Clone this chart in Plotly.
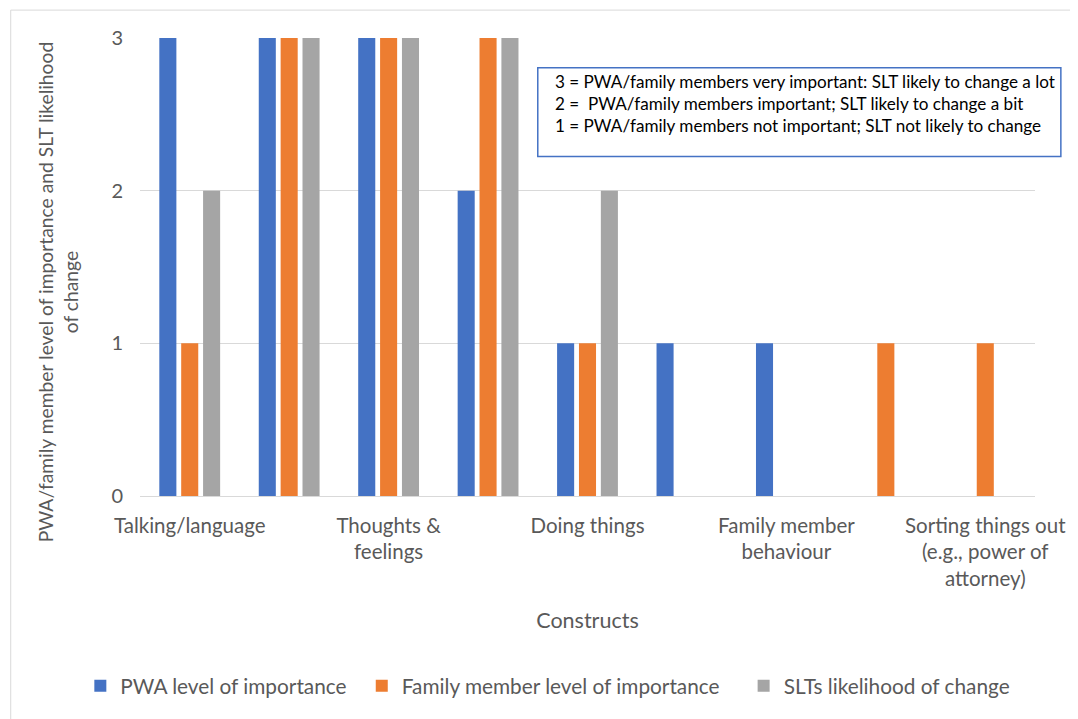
import plotly.graph_objects as go

# ---- data ----
positions = [0, 1, 2, 3, 4, 5, 6, 7, 8]
tick_positions = [0, 2, 4, 6, 8]
tick_labels = [
    "Talking/language",
    "Thoughts &<br>feelings",
    "Doing things",
    "Family member<br>behaviour",
    "Sorting things out<br>(e.g., power of<br>attorney)",
]
pwa = [3, 3, 3, 2, 1, 1, 1, 0, 0]
family = [1, 3, 3, 3, 1, 0, 0, 1, 1]
slt = [2, 3, 3, 3, 2, 0, 0, 0, 0]

series_names = ["PWA level of importance", "Family member level of importance", "SLTs likelihood of change"]
series_colors = ["#4472C4", "#ED7D31", "#A5A5A5"]

FONT = "Lato"
TXT = "#595959"

# plot area (absolute px in the window): x 140..1040, y 38..498 ; page body has 8px margin
PL, PR, PT, PB = 140, 1040, 38, 498
PW, PH = PR - PL, PB - PT


def px(x):
    return (x - PL) / PW


def py(y):
    return (PB - y) / PH


legend_ids = ["legend", "legend2", "legend3"]
legend_x = [80, 363, 747]

fig = go.Figure()
for name, vals, col, lid in zip(series_names, [pwa, family, slt], series_colors, legend_ids):
    fig.add_trace(go.Bar(x=positions, y=vals, name=name, legend=lid,
                         marker=dict(color=col, line=dict(width=0))))

legend_common = dict(orientation="h", xanchor="left", y=py(689), yanchor="middle",
                     font=dict(size=20.8, color=TXT), itemwidth=30, bgcolor="rgba(0,0,0,0)")

fig.update_layout(
    width=1070, height=711,
    paper_bgcolor="white", plot_bgcolor="white",
    barmode="group", bargap=0.34, bargroupgap=0.22,
    margin=dict(l=PL - 8, r=1078 - PR, t=PT - 8, b=719 - PB),
    font=dict(family=FONT, size=20, color=TXT),
    showlegend=True,
    legend=dict(x=px(legend_x[0]), **legend_common),
    legend2=dict(x=px(legend_x[1]), **legend_common),
    legend3=dict(x=px(legend_x[2]), **legend_common),
)
fig.update_xaxes(
    range=[-0.5, 8.5], tickmode="array", tickvals=tick_positions, ticktext=tick_labels,
    showgrid=False, zeroline=False, showline=True, linecolor="#D9D9D9", linewidth=1,
    ticks="", tickfont=dict(size=20.5, color=TXT), ticklabelstandoff=11,
    title=dict(text="Constructs", font=dict(size=21.5, color=TXT), standoff=24),
)
fig.update_yaxes(
    range=[0, 3], tickvals=[0, 1, 2, 3], showgrid=True, gridcolor="#D9D9D9", gridwidth=1,
    zeroline=False, showline=False, ticks="", ticklabelstandoff=16,
    tickfont=dict(size=20, color=TXT),
)

# y axis title
fig.add_annotation(
    text="PWA/family member level of importance and SLT likelihood<br>of change",
    xref="paper", yref="paper", x=px(57), y=py(293), textangle=-90,
    showarrow=False, font=dict(size=19.3, color=TXT), xanchor="center", yanchor="middle",
)

# key text box
fig.add_annotation(
    text="3 = PWA/family members very important: SLT likely to change a lot<br>"
         "2 = \u00a0PWA/family members important; SLT likely to change a bit<br>"
         "1 = PWA/family members not important; SLT not likely to change",
    xref="paper", yref="paper", x=px(555), y=py(104), xanchor="left", yanchor="middle",
    align="left", showarrow=False, font=dict(size=17.1, color="#000000"),
)
fig.add_shape(type="rect", xref="paper", yref="paper",
              x0=px(540), x1=px(1066), y0=py(157), y1=py(68),
              line=dict(color="#4472C4", width=1.5), fillcolor="rgba(0,0,0,0)")

# outer chart border
fig.add_shape(type="rect", xref="paper", yref="paper",
              x0=px(10), x1=px(1090), y0=py(730), y1=py(10),
              line=dict(color="#D9D9D9", width=1), fillcolor="rgba(0,0,0,0)", layer="below")

fig.write_html("out.html")
